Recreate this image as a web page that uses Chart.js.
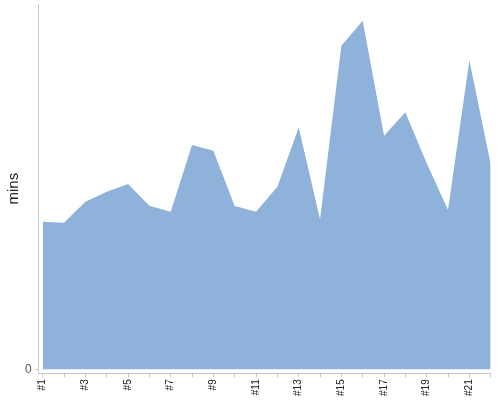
<!DOCTYPE html>
<html>
<head>
<meta charset="utf-8">
<script src="https://cdn.jsdelivr.net/npm/chart.js@4"></script>
<style>
  html, body { margin: 0; padding: 0; background: #fff; }
  #wrap { width: 500px; height: 400px; }
</style>
</head>
<body>
<div id="wrap"><canvas id="c" width="500" height="400"></canvas></div>
<script>
const categories = ['#1','#2','#3','#4','#5','#6','#7','#8','#9','#10','#11','#12','#13','#14','#15','#16','#17','#18','#19','#20','#21','#22'];
const minutes = [40.4, 40.1, 45.9, 48.6, 50.7, 44.8, 43.1, 61.4, 59.8, 44.7, 43.1, 50.0, 66.2, 41.1, 88.6, 95.4, 63.9, 70.4, 56.4, 43.6, 84.5, 56.2];
const yTickValues = [0];
const yTitle = 'mins';

const points = minutes.map((v, i) => ({ x: i + 1, y: v }));

function zeroPad(s) { s.paddingTop = 0; s.paddingBottom = 0; s.paddingLeft = 0; s.paddingRight = 0; }

new Chart(document.getElementById('c'), {
  type: 'line',
  data: {
    datasets: [{
      data: points,
      fill: 'origin',
      backgroundColor: '#8fb2da',
      borderWidth: 0,
      borderColor: 'rgba(0,0,0,0)',
      pointRadius: 0,
      tension: 0
    }]
  },
  options: {
    responsive: false,
    animation: false,
    layout: { padding: { top: 4, right: 9.3, left: 0, bottom: 0 } },
    plugins: { legend: { display: false }, tooltip: { enabled: false } },
    scales: {
      x: {
        type: 'linear',
        min: 0.8125,
        max: 22,
        afterBuildTicks: s => { s.ticks = categories.map((c, i) => ({ value: i + 1 })); },
        afterFit: s => { s.height = 26.7; zeroPad(s); },
        grid: { display: true, drawOnChartArea: false, tickLength: 4, color: '#c8c8c8' },
        border: { display: true, color: '#c8c8c8' },
        ticks: {
          autoSkip: false,
          minRotation: 90,
          maxRotation: 90,
          padding: 2,
          color: '#222',
          font: { family: 'Liberation Sans, Arial, sans-serif', size: 10 },
          callback: (v, i) => (i % 2 === 0 ? categories[i] : '')
        }
      },
      y: {
        type: 'linear',
        min: -1.095,
        max: 100,
        afterBuildTicks: s => { s.ticks = yTickValues.map(v => ({ value: v })); },
        afterFit: s => { s.width = 38.7; zeroPad(s); },
        grid: { display: true, drawOnChartArea: false, tickLength: 4, color: '#c8c8c8' },
        border: { display: true, color: '#c8c8c8' },
        ticks: {
          padding: 3,
          color: '#555',
          font: { family: 'Liberation Sans, Arial, sans-serif', size: 12 }
        },
        title: {
          display: true,
          text: yTitle,
          color: '#222',
          padding: { top: 5, bottom: 0 },
          font: { family: 'Liberation Sans, Arial, sans-serif', size: 15 }
        }
      }
    }
  }
});
</script>
</body>
</html>
